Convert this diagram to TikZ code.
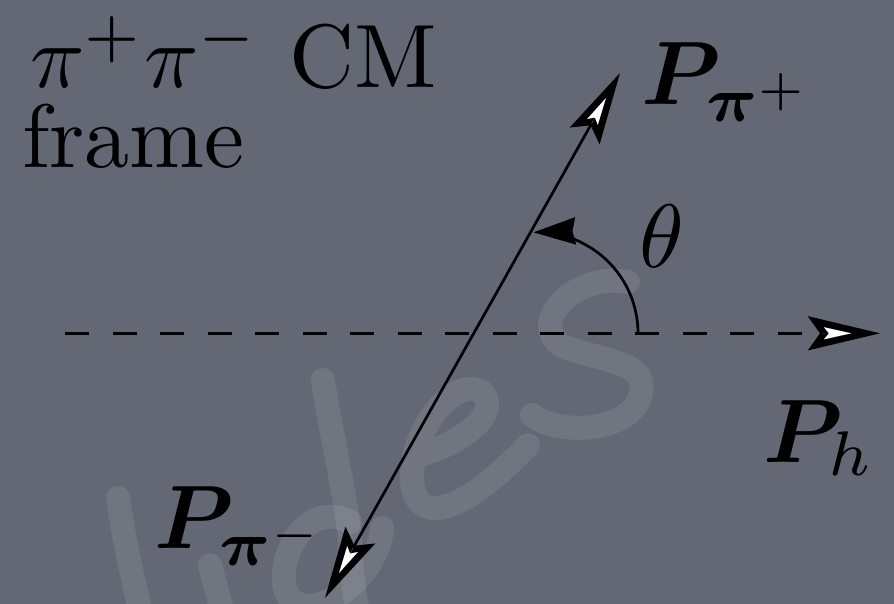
\documentclass[tikz,border=0pt]{standalone}
\usepackage{graphicx}
\usepackage{bm}
\usetikzlibrary{arrows.meta,calc}
\definecolor{board}{RGB}{99,104,116}
\newcommand\tipshine[2]{\path[draw=white,line width=0.01pt,-{Stealth[length=27pt,width=12pt,inset=5pt,white]}] ($(#1)!58pt!(#2)$) -- ($(#1)!29pt!(#2)$);}
\tikzset{
  bigtip/.tip={Stealth[length=72pt,width=34pt,inset=12pt]},
  arctip/.tip={Stealth[length=42pt,width=27pt,inset=3pt]},
  vec/.style={line width=2.7pt, black},
  axis/.style={line width=3.2pt, black, dash pattern=on 24pt off 23.5pt},
  lbl/.style={inner sep=0pt, outer sep=0pt, text=black, anchor=base west},
  chalk/.style={white, opacity=0.09, line width=24pt, line cap=round, line join=round}
}
\begin{document}
\begin{tikzpicture}[x=1pt,y=-1pt]
  \fill[board] (0,0) rectangle (894,604);
  \useasboundingbox (0,0) rectangle (894,604);

  % faint chalk watermark of the background
  \draw[chalk] (118,498) .. controls (124,540) and (132,575) .. (140,610);
  \draw[chalk] (210,565) -- (222,610);
  \draw[chalk] (323,380) .. controls (332,440) and (345,490) .. (350,540) .. controls (352,580) and (355,600) .. (358,610);
  \draw[chalk] (350,522) .. controls (320,505) and (290,530) .. (284,570) .. controls (280,600) and (300,615) .. (330,600) .. controls (360,585) and (380,555) .. (382,528);
  \draw[chalk] (420,455) .. controls (470,440) and (500,410) .. (482,392) .. controls (455,375) and (410,430) .. (412,480) .. controls (414,522) and (455,522) .. (528,445);
  \draw[chalk] (628,282) .. controls (580,272) and (528,318) .. (560,345) .. controls (600,362) and (652,360) .. (640,397) .. controls (628,432) and (560,436) .. (532,415);

  \coordinate (tipU) at (620,73);
  \coordinate (tipD) at (325,598);
  \coordinate (hs) at (65,333.3);
  \coordinate (he) at (880,333.3);
  \coordinate (ac) at (537,333.3);
  \coordinate (as) at (638,333.3);

  % horizontal dashed axis
  \draw[axis, -{bigtip}] (hs) -- (he);
  \tipshine{he}{hs}

  % pi+ pi- line
  \draw[vec, {bigtip}-{bigtip}] (tipD) -- (tipU);
  \tipshine{tipU}{tipD}
  \tipshine{tipD}{tipU}

  % angle arc
  \draw[vec, -{arctip}] (as) arc[start angle=0, end angle=-92, radius=101];

  % labels
  \node[lbl] (t1) at (30,88) {\scalebox{9}{$\pi^+\pi^-$ CM}};
  \node[lbl] (t2) at (22,168) {\scalebox{9}{frame}};
  \node[lbl] (pp) at (641,105) {\scalebox{9}{$\bm{P}_{\bm{\pi}^+}$}};
  \node[lbl] (ph) at (763,462) {\scalebox{9}{$\bm{P}_h$}};
  \node[lbl] (pm) at (154,548) {\scalebox{9}{$\bm{P}_{\bm{\pi}^-}$}};
  \node[lbl] (th) at (639,267) {\scalebox{9}{$\theta$}};
\end{tikzpicture}
\end{document}
